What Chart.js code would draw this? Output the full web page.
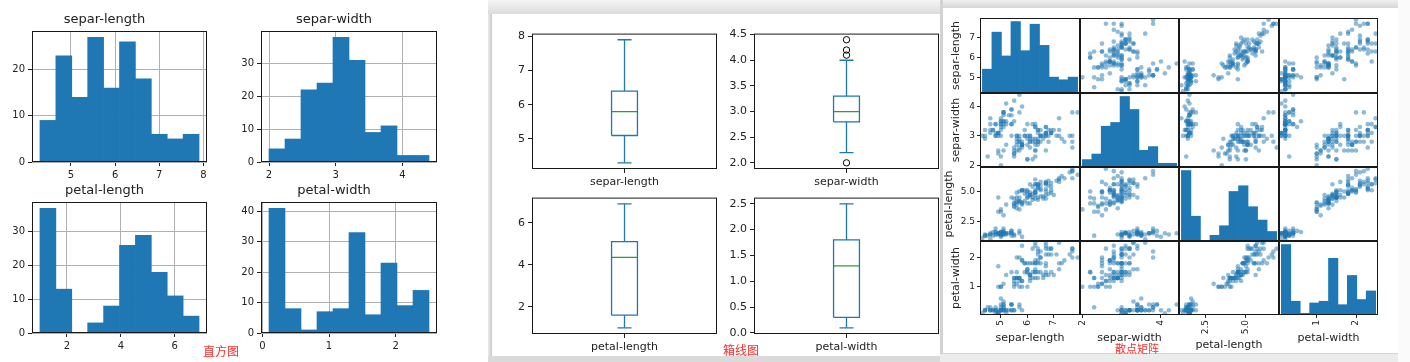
<!DOCTYPE html>
<html>
<head>
<meta charset="utf-8">
<script src="https://cdn.jsdelivr.net/npm/chart.js@4.4.1/dist/chart.umd.min.js"></script>
<style>
html, body { margin: 0; padding: 0; background: #fff; }
#page { position: relative; width: 1410px; height: 362px; overflow: hidden; background: #fff; }
#page canvas { position: absolute; }
.deco { position: absolute; }
.tag { position: absolute; z-index: 3; color: #ff2a2a; font-family: "Noto Sans CJK SC", sans-serif; line-height: 16px; white-space: nowrap; }
</style>
</head>
<body>
<div id="page">
  <!-- window frames of the box plot and scatter matrix screenshots -->
  <div class="deco" style="left:488px;top:0;width:455px;height:14px;background:linear-gradient(#f4f4f4,#dcdcdc);"></div>
  <div class="deco" style="left:488px;top:14px;width:4px;height:348px;background:linear-gradient(to right,#ececec,#c9c9c9);"></div>
  <div class="deco" style="left:488px;top:356px;width:455px;height:6px;background:#dadada;"></div>
  <div class="deco" style="left:940px;top:0;width:458px;height:8px;background:linear-gradient(#f0f0f0,#d6d6d6);"></div>
  <div class="deco" style="left:940px;top:0;width:3px;height:362px;background:#d2d2d2;"></div>
  <div class="deco" style="left:1398px;top:0;width:12px;height:362px;background:#fafafa;"></div>

  <div class="tag" style="left:203px;top:343px;font-size:12px;">直方图</div>
  <div class="tag" style="left:723px;top:342px;font-size:12px;">箱线图</div>
  <div class="tag" style="left:1115px;top:340px;font-size:11px;">散点矩阵</div>
</div>
<script>
// iris measurements
const varNames = ['separ-length', 'separ-width', 'petal-length', 'petal-width'];

const sepalLength = [
  5.1,4.9,4.7,4.6,5.0,5.4,4.6,5.0,4.4,4.9, 5.4,4.8,4.8,4.3,5.8,5.7,5.4,5.1,5.7,5.1,
  5.4,5.1,4.6,5.1,4.8,5.0,5.0,5.2,5.2,4.7, 4.8,5.4,5.2,5.5,4.9,5.0,5.5,4.9,4.4,5.1,
  5.0,4.5,4.4,5.0,5.1,4.8,5.1,4.6,5.3,5.0, 7.0,6.4,6.9,5.5,6.5,5.7,6.3,4.9,6.6,5.2,
  5.0,5.9,6.0,6.1,5.6,6.7,5.6,5.8,6.2,5.6, 5.9,6.1,6.3,6.1,6.4,6.6,6.8,6.7,6.0,5.7,
  5.5,5.5,5.8,6.0,5.4,6.0,6.7,6.3,5.6,5.5, 5.5,6.1,5.8,5.0,5.6,5.7,5.7,6.2,5.1,5.7,
  6.3,5.8,7.1,6.3,6.5,7.6,4.9,7.3,6.7,7.2, 6.5,6.4,6.8,5.7,5.8,6.4,6.5,7.7,7.7,6.0,
  6.9,5.6,7.7,6.3,6.7,7.2,6.2,6.1,6.4,7.2, 7.4,7.9,6.4,6.3,6.1,7.7,6.3,6.4,6.0,6.9,
  6.7,6.9,5.8,6.8,6.7,6.7,6.3,6.5,6.2,5.9
];
const sepalWidth = [
  3.5,3.0,3.2,3.1,3.6,3.9,3.4,3.4,2.9,3.1, 3.7,3.4,3.0,3.0,4.0,4.4,3.9,3.5,3.8,3.8,
  3.4,3.7,3.6,3.3,3.4,3.0,3.4,3.5,3.4,3.2, 3.1,3.4,4.1,4.2,3.1,3.2,3.5,3.1,3.0,3.4,
  3.5,2.3,3.2,3.5,3.8,3.0,3.8,3.2,3.7,3.3, 3.2,3.2,3.1,2.3,2.8,2.8,3.3,2.4,2.9,2.7,
  2.0,3.0,2.2,2.9,2.9,3.1,3.0,2.7,2.2,2.5, 3.2,2.8,2.5,2.8,2.9,3.0,2.8,3.0,2.9,2.6,
  2.4,2.4,2.7,2.7,3.0,3.4,3.1,2.3,3.0,2.5, 2.6,3.0,2.6,2.3,2.7,3.0,2.9,2.9,2.5,2.8,
  3.3,2.7,3.0,2.9,3.0,3.0,2.5,2.9,2.5,3.6, 3.2,2.7,3.0,2.5,2.8,3.2,3.0,3.8,2.6,2.2,
  3.2,2.8,2.8,2.7,3.3,3.2,2.8,3.0,2.8,3.0, 2.8,3.8,2.8,2.8,2.6,3.0,3.4,3.1,3.0,3.1,
  3.1,3.1,2.7,3.2,3.3,3.0,2.5,3.0,3.4,3.0
];
const petalLength = [
  1.4,1.4,1.3,1.5,1.4,1.7,1.4,1.5,1.4,1.5, 1.5,1.6,1.4,1.1,1.2,1.5,1.3,1.4,1.7,1.5,
  1.7,1.5,1.0,1.7,1.9,1.6,1.6,1.5,1.4,1.6, 1.6,1.5,1.5,1.4,1.5,1.2,1.3,1.5,1.3,1.5,
  1.3,1.3,1.3,1.6,1.9,1.4,1.6,1.4,1.5,1.4, 4.7,4.5,4.9,4.0,4.6,4.5,4.7,3.3,4.6,3.9,
  3.5,4.2,4.0,4.7,3.6,4.4,4.5,4.1,4.5,3.9, 4.8,4.0,4.9,4.7,4.3,4.4,4.8,5.0,4.5,3.5,
  3.8,3.7,3.9,5.1,4.5,4.5,4.7,4.4,4.1,4.0, 4.4,4.6,4.0,3.3,4.2,4.2,4.2,4.3,3.0,4.1,
  6.0,5.1,5.9,5.6,5.8,6.6,4.5,6.3,5.8,6.1, 5.1,5.3,5.5,5.0,5.1,5.3,5.5,6.7,6.9,5.0,
  5.7,4.9,6.7,4.9,5.7,6.0,4.8,4.9,5.6,5.8, 6.1,6.4,5.6,5.1,5.6,6.1,5.6,5.5,4.8,5.4,
  5.6,5.1,5.1,5.9,5.7,5.2,5.0,5.2,5.4,5.1
];
const petalWidth = [
  0.2,0.2,0.2,0.2,0.2,0.4,0.3,0.2,0.2,0.1, 0.2,0.2,0.1,0.1,0.2,0.4,0.4,0.3,0.3,0.3,
  0.2,0.4,0.2,0.5,0.2,0.2,0.4,0.2,0.2,0.2, 0.2,0.4,0.1,0.2,0.1,0.2,0.2,0.1,0.2,0.2,
  0.3,0.3,0.2,0.6,0.4,0.3,0.2,0.2,0.2,0.2, 1.4,1.5,1.5,1.3,1.5,1.3,1.6,1.0,1.3,1.4,
  1.0,1.5,1.0,1.4,1.3,1.4,1.5,1.0,1.5,1.1, 1.8,1.3,1.5,1.2,1.3,1.4,1.4,1.7,1.5,1.0,
  1.1,1.0,1.2,1.6,1.5,1.6,1.5,1.3,1.3,1.3, 1.2,1.4,1.2,1.0,1.3,1.2,1.3,1.3,1.1,1.3,
  2.5,1.9,2.1,1.8,2.2,2.1,1.7,1.8,1.8,2.5, 2.0,1.9,2.1,2.0,2.4,2.3,1.8,2.2,2.3,1.5,
  2.3,2.0,2.0,1.8,2.1,1.8,1.8,1.8,2.1,1.6, 1.9,2.0,2.2,1.5,1.4,2.3,2.4,1.8,1.8,2.1,
  2.4,2.3,1.9,2.3,2.5,2.3,1.9,2.0,2.3,1.8
];

// histogram counts (10 bins each)
const slCounts = [9, 23, 14, 27, 16, 26, 18, 6, 5, 6];
const swCounts = [4, 7, 22, 24, 38, 31, 9, 11, 2, 2];
const plCounts = [37, 13, 0, 3, 8, 26, 29, 18, 11, 5];
const pwCounts = [41, 8, 1, 7, 8, 33, 6, 23, 9, 14];

// box plot stats: whisker low, q1, median, q3, whisker high
const slBox = [4.3, 5.1, 5.8, 6.4, 7.9];
const swBox = [2.2, 2.8, 3.0, 3.3, 4.0];
const plBox = [1.0, 1.6, 4.35, 5.1, 6.9];
const pwBox = [0.1, 0.3, 1.3, 1.8, 2.5];
const swOutliers = [4.4, 4.1, 4.2, 2.0];

// tick labels
const histXTicks = [['5','6','7','8'], ['2','3','4'], ['2','4','6'], ['0','1','2']];
const histYTicks = [['0','10','20'], ['0','10','20','30'], ['0','10','20','30'], ['0','10','20','30','40']];
const boxYTicks = [['5','6','7','8'], ['2.0','2.5','3.0','3.5','4.0','4.5'], ['2','4','6'], ['0.0','0.5','1.0','1.5','2.0','2.5']];
const matrixYTicks = [['5','6','7'], ['2','3','4'], ['2.5','5.0'], ['1','2']];
const matrixXTicks = [['5','6','7'], ['2','4'], ['2.5','5.0'], ['1','2']];

const cols = [sepalLength, sepalWidth, petalLength, petalWidth];
const counts = [slCounts, swCounts, plCounts, pwCounts];
const boxes = [slBox, swBox, plBox, pwBox];
const outliers = [[], swOutliers, [], []];

const BLUE = '#1f77b4';
const page = document.getElementById('page');

Chart.defaults.font.family = '"DejaVu Sans", sans-serif';
Chart.defaults.color = '#222';
Chart.defaults.animation = false;
Chart.defaults.responsive = false;
Chart.defaults.plugins.legend.display = false;
Chart.defaults.plugins.tooltip.enabled = false;

// matplotlib style axes frame
Chart.register({
  id: 'frame',
  afterDraw(chart) {
    const a = chart.chartArea, ctx = chart.ctx;
    ctx.save();
    ctx.strokeStyle = '#1a1a1a';
    ctx.lineWidth = 1;
    ctx.strokeRect(a.left + 0.5, a.top + 0.5, a.right - a.left - 1, a.bottom - a.top - 1);
    ctx.restore();
  }
});

function place(x0, y0, x1, y1, m) {
  const cv = document.createElement('canvas');
  const w = x1 - x0 + m.l + m.r, h = y1 - y0 + m.t + m.b;
  cv.width = w; cv.height = h;
  cv.style.cssText = `left:${x0 - m.l}px;top:${y0 - m.t}px;width:${w}px;height:${h}px;`;
  page.appendChild(cv);
  return cv;
}

function range(arr, pad) {
  const lo = Math.min(...arr), hi = Math.max(...arr), e = (hi - lo) * pad;
  return [lo - e, hi + e];
}

function axis(o) {
  const vals = o.vals || o.labels.map(Number);
  const shown = o.show !== false;
  return {
    type: 'linear', position: o.pos, display: shown,
    min: o.min, max: o.max, offset: false, z: o.z || 0,
    afterBuildTicks: s => { s.ticks = vals.map(v => ({ value: v })); },
    afterFit: s => {
      if (!shown) return;
      if (o.pos === 'left') s.width = o.size; else s.height = o.size;
    },
    ticks: {
      callback: (v, i) => o.labels[i], font: { size: o.font }, color: '#222',
      padding: o.pad, minRotation: o.rot || 0, maxRotation: o.rot || 0, autoSkip: false
    },
    grid: {
      display: true, drawOnChartArea: !!o.grid, color: '#b0b0b0', lineWidth: 1,
      drawTicks: true, tickLength: o.tick, tickColor: '#222', offset: false
    },
    border: { display: false },
    title: { display: !!o.title, text: o.title || '', font: { size: o.titleFont }, color: '#222', padding: 0 }
  };
}

function histData(i) {
  const d = cols[i], c = counts[i];
  const lo = Math.min(...d), hi = Math.max(...d), w = (hi - lo) / c.length;
  return c.map((n, k) => ({ x: lo + (k + 0.5) * w, y: n }));
}

// ---- histograms ----
const histArea = [[32, 31, 207, 162], [261, 31, 437, 162], [32, 202, 207, 333], [261, 202, 437, 333]];
histArea.forEach((ar, i) => {
  const m = { l: 30, t: 30, r: 8, b: 20 };
  const cv = place(ar[0], ar[1], ar[2], ar[3], m);
  const [xmin, xmax] = range(cols[i], 0.05);
  new Chart(cv, {
    type: 'bar',
    data: { datasets: [{ data: histData(i), backgroundColor: BLUE, borderWidth: 0, barPercentage: 1, categoryPercentage: 1 }] },
    options: {
      devicePixelRatio: 1,
      layout: { padding: { left: 0, top: m.t - 19.6, right: m.r, bottom: 0 } },
      plugins: { title: { display: true, text: varNames[i], font: { size: 13, weight: 'normal' }, color: '#222', padding: { top: 0, bottom: 4 } } },
      scales: {
        x: axis({ pos: 'bottom', min: xmin, max: xmax, labels: histXTicks[i], font: 10, pad: 3, tick: 4, size: m.b, grid: true, z: 1 }),
        y: axis({ pos: 'left', min: 0, max: Math.max(...counts[i]) * 1.05, labels: histYTicks[i], font: 10, pad: 3, tick: 4, size: m.l, grid: true, z: 1 })
      }
    }
  });
});

// ---- box plots ----
const boxArea = [[532, 32, 717, 169], [754, 32, 939, 169], [532, 196, 717, 334], [754, 196, 939, 334]];
boxArea.forEach((ar, i) => {
  const m = { l: 30, t: 8, r: 6, b: 22 };
  const cv = place(ar[0], ar[1], ar[2], ar[3], m);
  const s = boxes[i];
  const bw = 0.07, cw = 0.038;
  const seg = (pts, color) => ({ data: pts, showLine: true, borderColor: color, borderWidth: 1.3, pointRadius: 0, fill: false });
  const [ymin, ymax] = range(cols[i], 0.05);
  new Chart(cv, {
    type: 'scatter',
    data: { datasets: [
      seg([{ x: 0, y: s[0] }, { x: 0, y: s[1] }], BLUE),
      seg([{ x: 0, y: s[3] }, { x: 0, y: s[4] }], BLUE),
      seg([{ x: -cw, y: s[0] }, { x: cw, y: s[0] }], BLUE),
      seg([{ x: -cw, y: s[4] }, { x: cw, y: s[4] }], BLUE),
      seg([{ x: -bw, y: s[1] }, { x: bw, y: s[1] }, { x: bw, y: s[3] }, { x: -bw, y: s[3] }, { x: -bw, y: s[1] }], BLUE),
      seg([{ x: -bw, y: s[2] }, { x: bw, y: s[2] }], '#2ca02c'),
      { data: outliers[i].map(v => ({ x: 0, y: v })), pointRadius: 3.2, pointBackgroundColor: 'rgba(0,0,0,0)',
        pointBorderColor: '#000', pointBorderWidth: 1, showLine: false }
    ] },
    options: {
      devicePixelRatio: 1,
      layout: { padding: { left: 0, top: m.t, right: m.r, bottom: 0 } },
      scales: {
        x: axis({ pos: 'bottom', min: -0.5, max: 0.5, vals: [0], labels: [varNames[i]], font: 11, pad: 3, tick: 4, size: m.b }),
        y: axis({ pos: 'left', min: ymin, max: ymax, labels: boxYTicks[i], font: 11, pad: 3, tick: 4, size: m.l })
      }
    }
  });
});

// ---- scatter matrix ----
const mCols = [980, 1080, 1179, 1279, 1378];
const mRows = [18, 93, 167, 241, 315];
for (let r = 0; r < 4; r++) {
  for (let c = 0; c < 4; c++) {
    const left = c === 0, bottom = r === 3;
    const m = { l: left ? (r === 2 ? 37 : 30) : 8, t: 8, r: 8, b: bottom ? (c === 2 ? 37 : 30) : 8 };
    const cv = place(mCols[c], mRows[r], mCols[c + 1], mRows[r + 1], m);
    const [xmin, xmax] = range(cols[c], 0.025);
    const [vmin, vmax] = range(cols[r], 0.025);
    const xAx = axis({ pos: 'bottom', show: bottom, min: xmin, max: xmax, labels: matrixXTicks[c], font: 9, pad: 2, tick: 3,
      size: m.b, rot: 90, title: bottom ? varNames[c] : '', titleFont: 11 });
    const yAx = axis({ pos: 'left', show: left, min: vmin, max: vmax, labels: matrixYTicks[r], font: 9, pad: 2, tick: 3,
      size: m.l, title: left ? varNames[r] : '', titleFont: 11 });
    const padding = { left: left ? 0 : m.l, top: m.t, right: m.r, bottom: bottom ? 0 : m.b };
    let cfg;
    if (r === c) {
      const scales = { x: xAx, y: { type: 'linear', display: false, min: 0, max: Math.max(...counts[c]) * 1.05 } };
      if (left) scales.yv = yAx;
      cfg = {
        type: 'bar',
        data: { datasets: [{ data: histData(c), xAxisID: 'x', yAxisID: 'y', backgroundColor: BLUE, borderWidth: 0,
          barPercentage: 1, categoryPercentage: 1 }] },
        options: { devicePixelRatio: 1, layout: { padding }, scales }
      };
    } else {
      cfg = {
        type: 'scatter',
        data: { datasets: [{ data: cols[r].map((v, k) => ({ x: cols[c][k], y: v })), pointRadius: 2.3,
          pointBackgroundColor: 'rgba(31,119,180,0.5)', pointBorderWidth: 0 }] },
        options: { devicePixelRatio: 1, layout: { padding }, scales: { x: xAx, y: yAx } }
      };
    }
    new Chart(cv, cfg);
  }
}

// bottom edge of the scatter matrix window
const strip = document.createElement('div');
strip.className = 'deco';
strip.style.cssText = 'left:940px;top:353px;width:458px;height:9px;background:#ececec;border-top:1px solid #d4d4d4;z-index:2;';
page.appendChild(strip);
</script>
</body>
</html>
